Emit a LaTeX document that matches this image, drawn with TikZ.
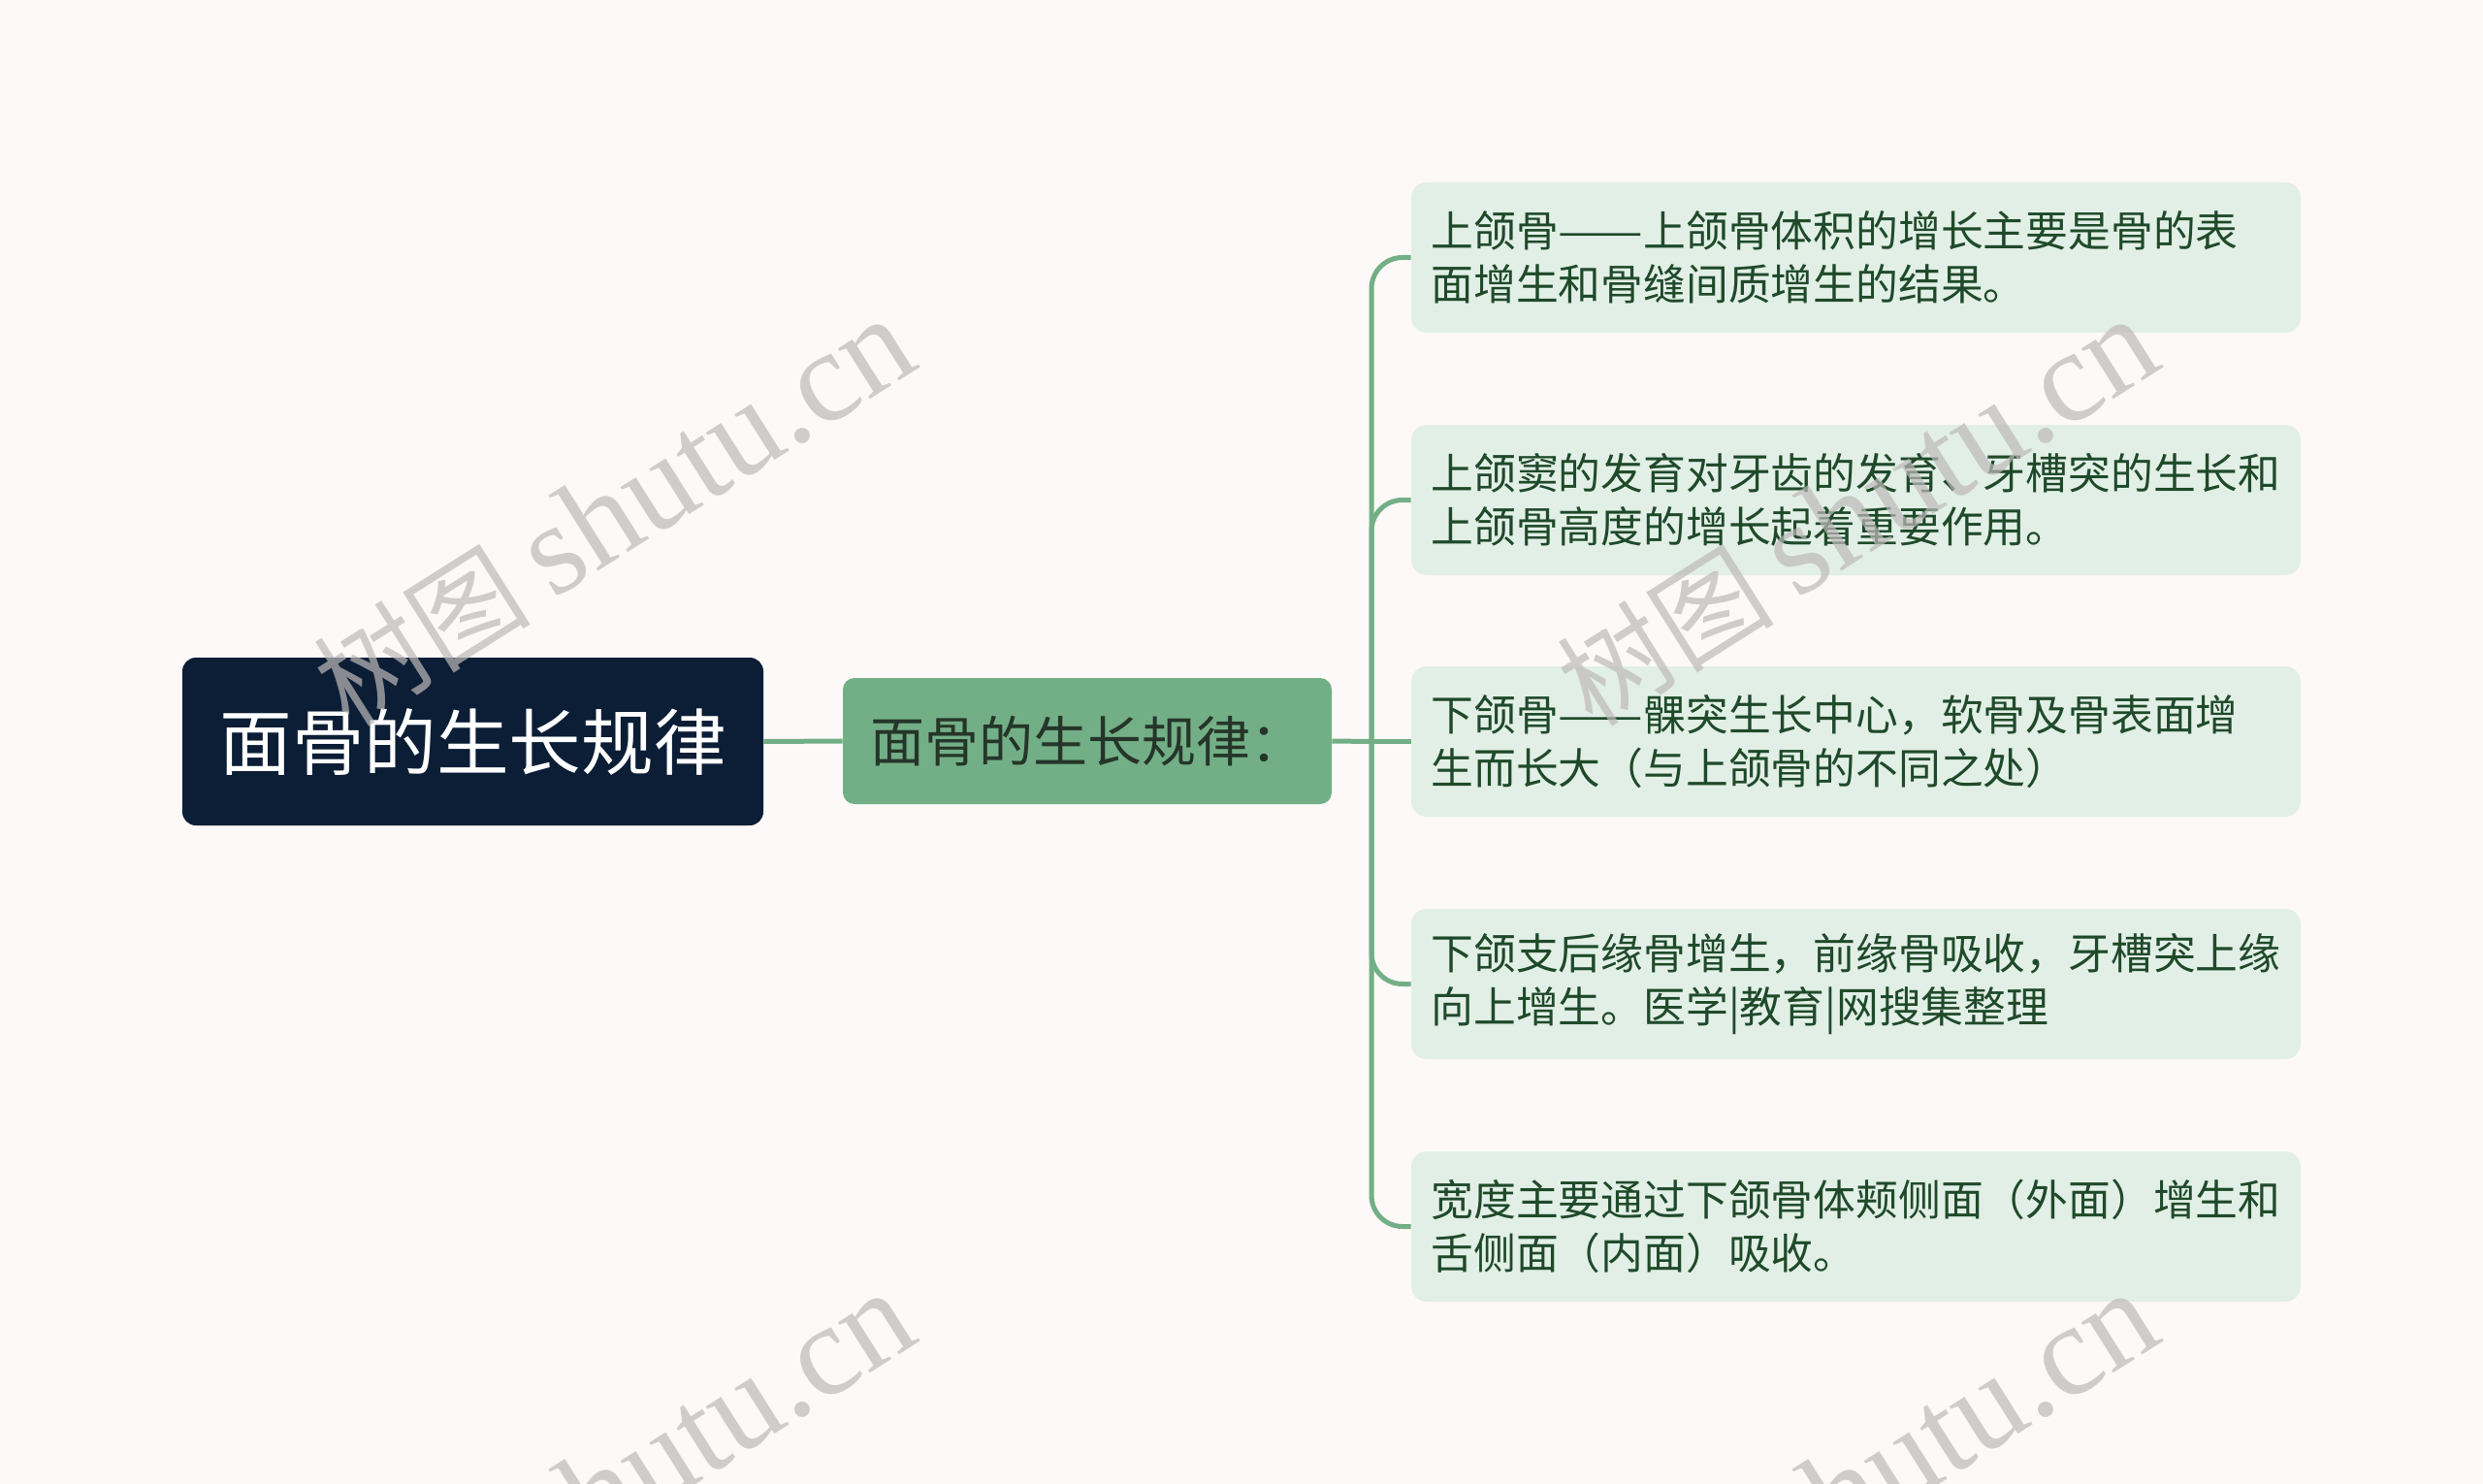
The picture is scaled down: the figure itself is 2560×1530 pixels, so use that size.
\documentclass[tikz,border=0pt]{standalone}
\usepackage{fontspec}
\usepackage{graphicx}
\setmainfont{Noto Sans CJK SC}
\newfontfamily\wmcjk{Noto Sans CJK SC}
\newfontfamily\wmserif{Liberation Serif}
\newcommand\longdash{\resizebox{2em}{\height}{——}}
\newcommand\wmtext{{\fontsize{56}{64}\selectfont\wmcjk 树图 }{\fontsize{67}{72}\selectfont\wmserif shutu.cn}}
\definecolor{bgcol}{HTML}{FCF9F8}
\definecolor{rootcol}{HTML}{0C1E36}
\definecolor{subcol}{HTML}{73AF86}
\definecolor{subtext}{HTML}{25352A}
\definecolor{leafcol}{HTML}{E2EFE6}
\definecolor{leaftext}{HTML}{1F4A2A}
\definecolor{wmcol}{HTML}{BDBAB9}
\tikzset{
  rootbox/.style={fill=rootcol, rounded corners=7pt, minimum width=299.5pt, minimum height=86.5pt, inner sep=0pt, text=white, font=\fontsize{37.3}{44}\selectfont},
  subbox/.style={fill=subcol, rounded corners=6pt, minimum width=252pt, minimum height=65pt, inner sep=0pt, text=subtext, font=\fontsize{28}{33}\selectfont},
  leafbox/.style={fill=leafcol, rounded corners=8pt, minimum height=77.5pt, text width=438pt, inner xsep=10.25pt, inner ysep=0pt, align=left, text=leaftext, font=\fontsize{21.9}{27.75}\selectfont},
  conn/.style={draw=subcol, line width=2.5pt},
  wm/.style={text=wmcol, opacity=0.7, rotate=32.3, anchor=base west, inner sep=0pt}
}
\begin{document}
\begin{tikzpicture}[x=0.5pt,y=-0.5pt]
\fill[bgcol] (0,0) rectangle (2560,1530);
\useasboundingbox (0,0) rectangle (2560,1530);

\node[rootbox] (root) at (487.5,764.5) {面骨的生长规律};
\node[subbox] (sub) at (1121,764) {面骨的生长规律：};

\node[leafbox] (l1) at (1913.5,265.5) {上颌骨\longdash 上颌骨体积的增长主要是骨的表\\面增生和骨缝间质增生的结果。};
\node[leafbox] (l2) at (1913.5,515.5) {上颌窦的发育对牙齿的发育、牙槽突的生长和\\上颌骨高度的增长起着重要作用。};
\node[leafbox] (l3) at (1913.5,764.5) {下颌骨\longdash 髁突生长中心，软骨及骨表面增\\生而长大（与上颌骨的不同之处）};
\node[leafbox] (l4) at (1913.5,1014.5) {下颌支后缘骨增生，前缘骨吸收，牙槽突上缘\\向上增生。医学|教育|网搜集整理};
\node[leafbox] (l5) at (1913.5,1264.5) {宽度主要通过下颌骨体颊侧面（外面）增生和\\舌侧面（内面）吸收。};

\coordinate (bus) at (1414,764.5);
\draw[conn] (root.east) -- (sub.west);
\draw[conn] (sub.east) -- (bus);
\draw[conn, rounded corners=16pt] (bus) |- (l1.west);
\draw[conn, rounded corners=16pt] (bus) |- (l2.west);
\draw[conn] (bus) -- (l3.west);
\draw[conn, rounded corners=16pt] (bus) |- (l4.west);
\draw[conn, rounded corners=16pt] (bus) |- (l5.west);

\begin{scope}
\clip (0,0) rectangle (2560,1530);
\node[wm] (wm1) at (360,752) {\wmtext};
\node[wm] (wm2) at (1642,752) {\wmtext};
\node[wm] (wm3) at (360,1756) {\wmtext};
\node[wm] (wm4) at (1642,1756) {\wmtext};
\end{scope}
\end{tikzpicture}
\end{document}
